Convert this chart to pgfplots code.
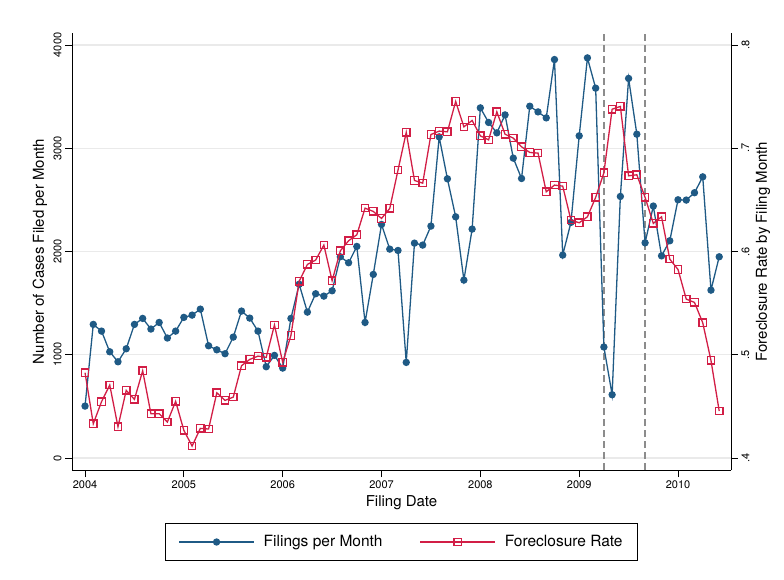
\documentclass[border=0pt]{standalone}
\usepackage{fontspec}
\setmainfont{TeX Gyre Heros}
\usepackage{pgfplots}
\pgfplotsset{compat=1.18}
\usepackage{pgfplotstable}
\definecolor{fblue}{HTML}{1F5A85}
\definecolor{fred}{HTML}{D21E46}
\definecolor{gridc}{HTML}{EAEAEA}
\definecolor{refc}{HTML}{8C8C8C}
\pgfplotstableread{
m f r
0 503 .4826
1 1294 .4332
2 1229 .4545
3 1029 .4707
4 932 .4303
5 1058 .4655
6 1294 .4568
7 1352 .4845
8 1249 .4429
9 1313 .4429
10 1162 .4349
11 1229 .4549
12 1362 .4268
13 1384 .4116
14 1442 .4287
15 1087 .4281
16 1048 .4632
17 1010 .4558
18 1171 .4590
19 1423 .4894
20 1355 .4955
21 1229 .4987
22 884 .4975
23 994 .5288
24 871 .4926
25 1352 .5187
26 1683 .5711
27 1413 .5875
28 1591 .5917
29 1568 .6062
30 1620 .5717
31 1949 .6007
32 1891 .6104
33 2049 .6162
34 1313 .6420
35 1778 .6388
36 2262 .6320
37 2023 .6417
38 2010 .6788
39 926 .7153
40 2081 .6688
41 2062 .6662
42 2246 .7133
43 3110 .7166
44 2704 .7159
45 2336 .7453
46 1723 .7207
47 2217 .7269
48 3391 .7120
49 3250 .7081
50 3149 .7353
51 3323 .7136
52 2904 .7098
53 2707 .7014
54 3407 .6959
55 3352 .6953
56 3294 .6578
57 3859 .6643
58 1965 .6633
59 2282 .6304
60 3120 .6278
61 3875 .6336
62 3582 .6524
63 1075 .6762
64 613 .7378
65 2533 .7405
66 3676 .6733
67 3136 .6743
68 2084 .6524
69 2440 .6272
70 1958 .6336
71 2104 .5926
72 2501 .5826
73 2498 .5539
74 2569 .5507
75 2723 .5310
76 1626 .4945
77 1949 .4455
}\data
\pgfplotsset{
  common/.style={
    at={(72pt,-470pt)}, anchor=south west,
    scale only axis, width=659pt, height=437pt,
    xmin=2003.868, xmax=2010.536,
    tick align=outside, major tick length=7pt,
    tick style={black, line width=0.8pt},
    axis line style={black, line width=0.9pt},
    /pgf/number format/assume math mode=true,
    /pgf/number format/1000 sep={},
    ticklabel style={font=\fontsize{11}{13}\selectfont},
    label style={font=\fontsize{15}{18}\selectfont},
  },
}
\begin{document}
\begin{tikzpicture}
\path[use as bounding box] (0pt,0pt) rectangle (784pt,-580pt);
\begin{axis}[common,
  ymin=-116, ymax=4116,
  axis y line*=left, axis x line*=bottom,
  xtick={2004,2005,2006,2007,2008,2009,2010},
  ytick={0,1000,2000,3000,4000},
  ymajorgrids, grid style={gridc, line width=1.2pt},
  yticklabel style={rotate=90, anchor=south},
  xlabel={Filing Date},
  xlabel style={at={(axis description cs:0.5,-0.0755)}, anchor=center},
  ylabel={Number of Cases Filed per Month},
  ylabel style={at={(axis description cs:-0.0486,0.5)}, anchor=center, rotate=0},
]
\draw[refc, line width=1.3pt, dash pattern=on 7pt off 4pt] (axis cs:2009.25,-116) -- (axis cs:2009.25,4116);
\draw[refc, line width=1.3pt, dash pattern=on 7pt off 4pt] (axis cs:2009.6667,-116) -- (axis cs:2009.6667,4116);
\addplot[fblue, line width=1.3pt, mark=*, mark size=3pt, mark options={fill=fblue, draw=fblue}]
  table[x expr=2004+\thisrow{m}/12, y=f] {\data};
\end{axis}
\begin{axis}[common,
  ymin=0.3884, ymax=0.8116,
  axis y line*=right, axis x line=none,
  ytick={0.4,0.5,0.6,0.7,0.8},
  yticklabels={.4,.5,.6,.7,.8},
  yticklabel style={rotate=90, anchor=north},
  ylabel={Foreclosure Rate by Filing Month},
  ylabel style={at={(axis description cs:1.0486,0.5)}, anchor=center, rotate=0},
  legend columns=2,
  legend image code/.code={\draw[mark repeat=2,mark phase=2,#1] plot coordinates {(0pt,0pt) (37.5pt,0pt) (75pt,0pt)};},
  legend style={at={(0.5,-0.1648)}, anchor=center, draw=black, line width=0.8pt,
    font=\fontsize{15.5}{18}\selectfont, inner xsep=13pt, inner ysep=10pt,
    /tikz/every odd column/.append style={column sep=7pt},
    /tikz/every even column/.append style={column sep=35pt}},
]
\addlegendimage{fblue, line width=1.3pt, mark=*, mark size=3pt, mark options={fill=fblue, draw=fblue}}
\addlegendentry{Filings per Month}
\addplot[fred, line width=1.3pt, mark=square, mark size=3.7pt, mark options={solid, line width=1.3pt}]
  table[x expr=2004+\thisrow{m}/12, y=r] {\data};
\addlegendentry{Foreclosure Rate\hspace{6pt}}
\end{axis}
\end{tikzpicture}
\end{document}
